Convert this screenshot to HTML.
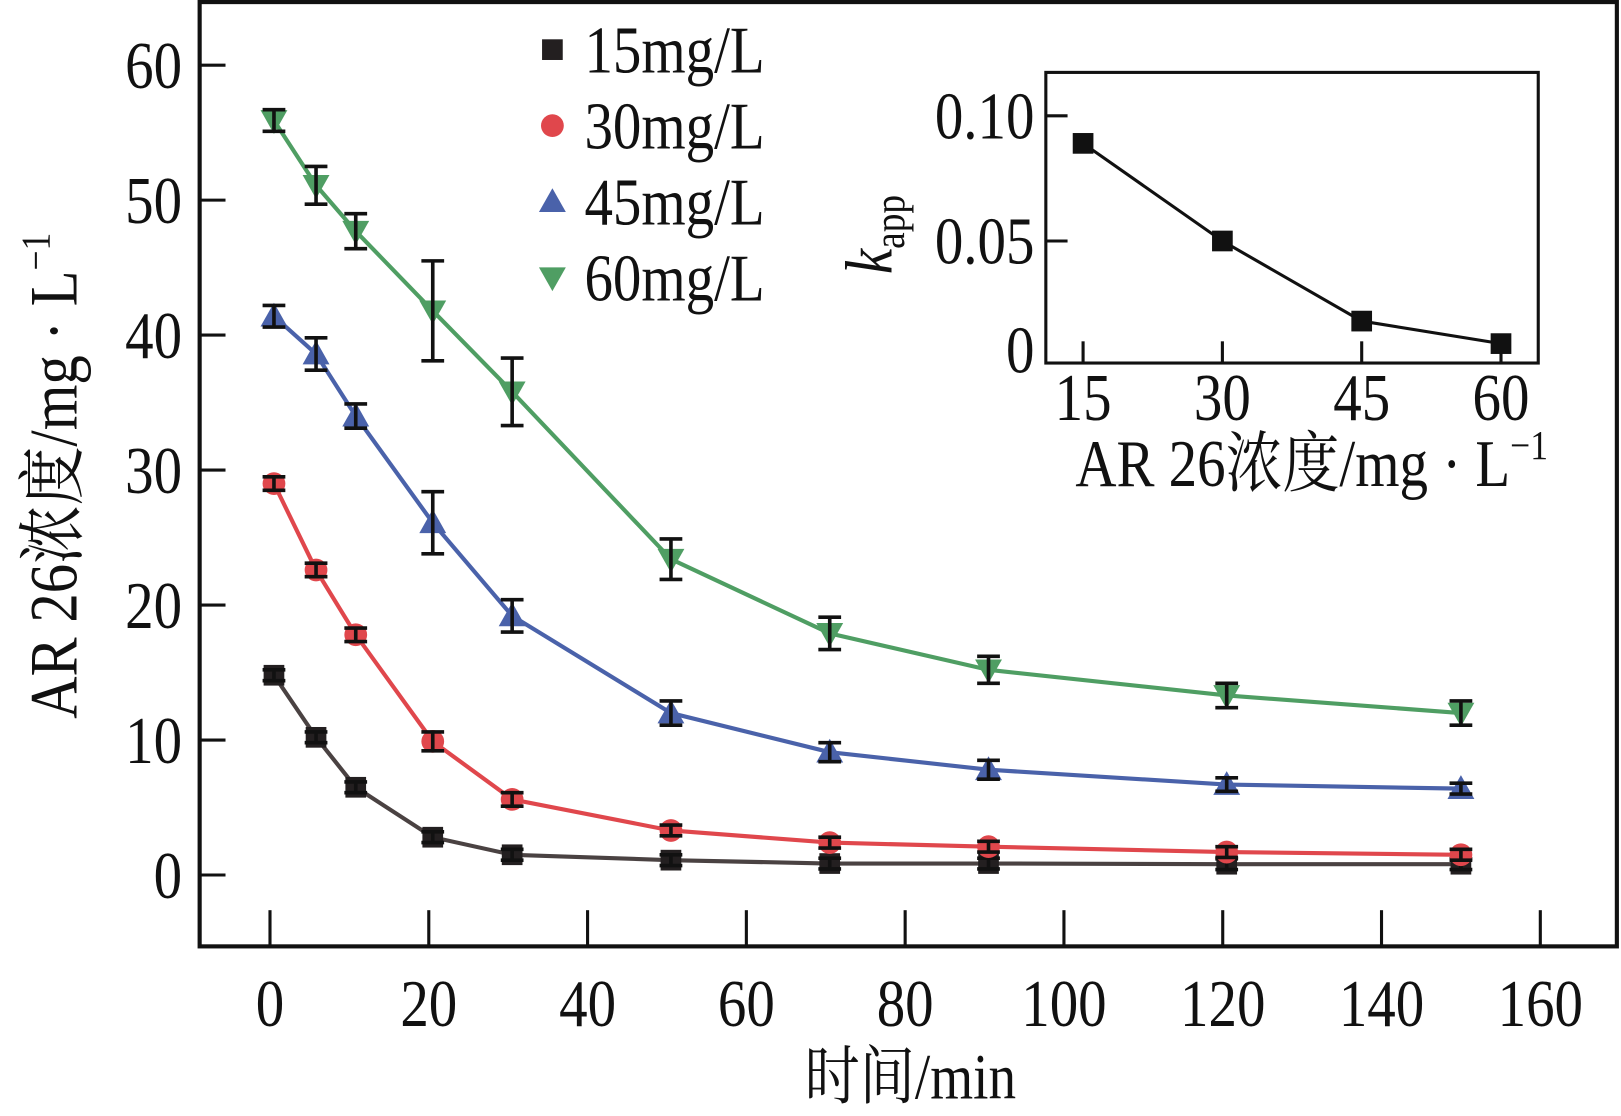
<!DOCTYPE html>
<html><head><meta charset="utf-8"><style>
html,body{margin:0;padding:0;background:#fff;}
svg{display:block;font-family:"Liberation Serif","Noto Serif CJK SC",serif;}
</style></head><body>
<svg id="chart" width="1621" height="1116" viewBox="0 0 1567 1079" preserveAspectRatio="none" xmlns="http://www.w3.org/2000/svg"></svg>
<script>
const times=[0.5,5.8,10.8,20.5,30.5,50.5,70.5,90.5,120.5,150];
const s15=[14.8,10.2,6.5,2.8,1.5,1.1,0.85,0.85,0.8,0.8];
const s30=[29.0,22.6,17.8,9.9,5.6,3.3,2.4,2.1,1.7,1.5];
const s45=[41.4,38.6,34.0,26.1,19.2,12.0,9.1,7.8,6.7,6.4];
const s60=[55.9,51.1,47.7,41.8,35.8,23.4,17.9,15.2,13.3,12.0];
const e15=[0.4,0.4,0.4,0.4,0.4,0.4,0.4,0.4,0.4,0.4];
const e30=[0.5,0.5,0.5,0.7,0.5,0.4,0.4,0.4,0.4,0.4];
const e45=[0.8,1.2,0.9,2.3,1.2,0.9,0.7,0.7,0.5,0.4];
const e60=[0.8,1.4,1.3,3.7,2.5,1.5,1.2,1.0,0.9,0.9];
const xTicks=[0,20,40,60,80,100,120,140,160];
const yTicks=[0,10,20,30,40,50,60];
const insetX=[15,30,45,60];
const insetK=[0.089,0.050,0.018,0.009];
const insetYTicks=[0,0.05,0.10];
const insetYLabels=["0","0.05","0.10"];

const NS="http://www.w3.org/2000/svg";
const svg=document.getElementById('chart');
function el(tag,attrs,parent){const e=document.createElementNS(NS,tag);for(const k in attrs)e.setAttribute(k,attrs[k]);(parent||svg).appendChild(e);return e;}
function txt(x,y,anchor,size,extra){
  const g=el('g',{transform:`translate(${x},${y}) ${extra||''} scale(0.86,1)`});
  return el('text',{x:0,y:0,'font-size':size,'text-anchor':anchor,fill:'#111'},g);
}
const X=t=>261+t*7.675;
const Y=v=>846-v*13.05;
const IX=c=>1047+(c-15)*(1451-1047)/45;
const IY=k=>354-k*2420;

let r=el('rect',{x:193,y:2,width:1370,height:913,fill:'none',stroke:'#111','stroke-width':4});


xTicks.forEach(t=>{
  let l=el('line',{x1:X(t),x2:X(t),y1:880,y2:915,stroke:'#111','stroke-width':3});
  
  
  let tx=txt(X(t),992,'middle',64);
  tx.textContent=t;
  
  
});
yTicks.forEach(v=>{
  let l=el('line',{x1:193,x2:218,y1:Y(v),y2:Y(v),stroke:'#111','stroke-width':3});
  
  
  let tx=txt(176,Y(v)+22,'end',64);
  tx.textContent=v;
  
  
});
let xt=txt(880,1062,'middle',62);
xt.textContent='时间/min';


let yt=txt(74,460,'middle',66,'rotate(-90)');
yt.innerHTML='AR 26浓度/mg · L<tspan font-size="40" dy="-26">−1</tspan>';



function marker(type,cx,cy,color,g){
  if(type==='sq') return el('rect',{x:cx-10,y:cy-10,width:20,height:20,fill:color},g);
  if(type==='ci') return el('ellipse',{cx:cx,cy:cy,rx:11,ry:11,fill:color},g);
  if(type==='up') return el('polygon',{points:`${cx},${cy-13} ${cx-13},${cy+10} ${cx+13},${cy+10}`,fill:color},g);
  return el('polygon',{points:`${cx},${cy+13} ${cx-13},${cy-10} ${cx+13},${cy-10}`,fill:color},g);
}
const series=[
 {name:'15',v:s15,e:e15,c:'#231f20',lc:'#4a4242',m:'sq'},
 {name:'30',v:s30,e:e30,c:'#e0474c',lc:'#e0474c',m:'ci'},
 {name:'45',v:s45,e:e45,c:'#4a62aa',lc:'#4a62aa',m:'up'},
 {name:'60',v:s60,e:e60,c:'#4f9e63',lc:'#4f9e63',m:'dn'}];
series.forEach(s=>{
  const g=el('g',{});
  
  
  let p=el('polyline',{points:times.map((t,i)=>X(t)+','+Y(s.v[i])).join(' '),fill:'none',stroke:s.lc,'stroke-width':4},g);
  
  
  times.forEach((t,i)=>{
    let m=marker(s.m,X(t),Y(s.v[i]),s.c,g);
    
    
    const x=X(t),y1=Y(s.v[i]+s.e[i]),y2=Y(s.v[i]-s.e[i]);
    let eb=el('path',{d:`M${x},${y1}V${y2}M${x-11},${y1}H${x+11}M${x-11},${y2}H${x+11}`,stroke:'#111','stroke-width':3.5,fill:'none'},g);
    
    
  });
});
series.forEach((s,i)=>{
  const y=48+i*73.5;
  let m=marker(s.m,534,y,s.c);
  
  
  let tx=txt(565,y+22,'start',64);
  tx.textContent=s.name+'mg/L';
  
  
});
let ir=el('rect',{x:1011,y:70,width:476,height:281,fill:'none',stroke:'#111','stroke-width':3});


insetX.forEach(c=>{
  let l=el('line',{x1:IX(c),x2:IX(c),y1:330,y2:351,stroke:'#111','stroke-width':3});
  
  
  let tx=txt(IX(c),406,'middle',64);
  tx.textContent=c;
  
  
});
insetYTicks.forEach((k,i)=>{
  if(k>0){let l=el('line',{x1:1011,x2:1032,y1:IY(k),y2:IY(k),stroke:'#111','stroke-width':3});
  
  }
  let tx=txt(1000,(k===0?360:IY(k)+22),'end',64);
  tx.textContent=insetYLabels[i];
  
  
});
let il=el('polyline',{points:insetX.map((c,i)=>IX(c)+','+IY(insetK[i])).join(' '),fill:'none',stroke:'#111','stroke-width':3});


insetX.forEach((c,i)=>{
  let m=el('rect',{x:IX(c)-10,y:IY(insetK[i])-10,width:20,height:20,fill:'#111'});
  
  
});
let ixt=txt(1268,470,'middle',64);
ixt.innerHTML='AR 26浓度/mg · L<tspan font-size="40" dy="-26">−1</tspan>';


let iyt=txt(862,265,'start',64,'rotate(-90)');
iyt.innerHTML='<tspan font-style="italic">k</tspan><tspan font-size="42" dy="12">app</tspan>';


</script>
</body></html>
